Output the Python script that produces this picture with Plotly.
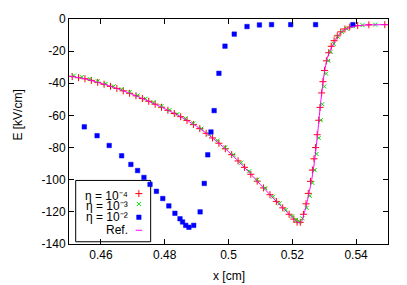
import plotly.graph_objects as go

# Reference solution (magenta line)
ref_x = [0.450, 0.455, 0.460, 0.465, 0.470, 0.475, 0.480, 0.485, 0.490, 0.495,
         0.500, 0.505, 0.510, 0.515, 0.518, 0.520, 0.521, 0.522, 0.5225, 0.523,
         0.524, 0.525, 0.526, 0.527, 0.528, 0.529, 0.530, 0.531, 0.532, 0.533,
         0.534, 0.535, 0.536, 0.537, 0.539, 0.542, 0.546, 0.550]
ref_e = [-35.5, -37.2, -40.0, -43.2, -47.0, -51.2, -55.8, -60.8, -66.8, -74.0,
         -82.5, -92.3, -103.0, -113.5, -119.5, -123.5, -125.5, -126.8, -126.8, -125.5,
         -119.0, -110.5, -101.0, -88.0, -70.0, -50.0, -34.0, -24.0, -19.0, -15.3,
         -11.5, -8.8, -7.0, -6.0, -4.7, -3.9, -3.6, -3.5]

# eta = 1e-4 (red +)
r_x = [0.451, 0.453, 0.455, 0.457, 0.459, 0.461, 0.463, 0.465, 0.467, 0.469,
       0.471, 0.473, 0.475, 0.477, 0.479, 0.481, 0.483, 0.485, 0.487, 0.489,
       0.491, 0.493, 0.495, 0.497, 0.499, 0.501, 0.503, 0.505, 0.507, 0.509,
       0.511, 0.513, 0.515, 0.517, 0.519, 0.5205, 0.5215, 0.5225, 0.5235, 0.5243,
       0.5250, 0.5257, 0.5263, 0.5268, 0.5273, 0.5278, 0.5283, 0.5287, 0.5292, 0.5296,
       0.5301, 0.5307, 0.5314, 0.5322, 0.5331, 0.5341, 0.5352, 0.5365, 0.5380, 0.5405,
       0.5440, 0.5490]
r_e = [-35.8, -36.5, -37.2, -38.2, -39.4, -40.6, -41.9, -43.2, -44.7, -46.2,
       -47.8, -49.5, -51.2, -53.0, -54.9, -56.8, -58.8, -60.8, -63.1, -65.6,
       -68.2, -71.1, -74.0, -77.3, -80.7, -84.4, -88.3, -92.3, -96.6, -100.9,
       -105.1, -109.3, -113.5, -117.5, -121.5, -124.5, -126.4, -126.5, -121.5, -115.0,
       -108.5, -101.0, -94.0, -87.0, -80.0, -72.0, -63.0, -55.0, -46.0, -39.0,
       -32.0, -26.0, -21.0, -17.0, -13.5, -10.5, -8.0, -6.2, -5.0, -4.1,
       -3.6, -3.5]

# eta = 1e-3 (green x)
g_x = [0.4515, 0.4540, 0.4565, 0.4590, 0.4615, 0.4640, 0.4665, 0.4690, 0.4715, 0.4740,
       0.4765, 0.4790, 0.4815, 0.4840, 0.4865, 0.4890, 0.4915, 0.4940, 0.4965, 0.4990,
       0.5015, 0.5040, 0.5065, 0.5090, 0.5115, 0.5140, 0.5160, 0.5180, 0.5200, 0.5212,
       0.5222, 0.5232, 0.5245, 0.5255, 0.5263, 0.5270, 0.5276, 0.5283, 0.5289, 0.5294,
       0.5300, 0.5306, 0.5313, 0.5320, 0.5330, 0.5342, 0.5355, 0.5370, 0.5390, 0.5420,
       0.5460]
g_e = [-35.2, -36.1, -37.3, -38.7, -40.3, -41.9, -43.7, -45.5, -47.5, -49.6,
       -51.8, -54.2, -56.7, -59.2, -61.9, -64.9, -68.2, -71.7, -75.6, -79.9,
       -84.5, -89.4, -94.7, -100.0, -105.3, -110.5, -114.7, -118.7, -122.7, -125.0,
       -126.0, -124.0, -117.5, -110.0, -102.0, -94.0, -84.0, -74.0, -63.0, -53.0,
       -42.0, -34.0, -26.0, -20.5, -15.5, -11.0, -8.0, -6.0, -4.6, -3.8,
       -3.5]

# eta = 1e-2 (blue)
b_x = [0.4548, 0.4588, 0.4626, 0.4665, 0.4694, 0.4715, 0.4735, 0.4754, 0.4774, 0.4794,
       0.4813, 0.4832, 0.4848, 0.4856, 0.4866, 0.4876, 0.4891, 0.4911, 0.4924, 0.4935,
       0.4945, 0.4955, 0.4970, 0.4989, 0.5018, 0.5058, 0.5097, 0.5135, 0.5195, 0.5273,
       0.5390]
b_e = [-67.1, -72.6, -78.7, -85.1, -90.5, -94.3, -98.6, -102.9, -107.2, -111.7,
       -116.3, -120.9, -124.3, -126.3, -128.4, -129.6, -128.4, -120.0, -102.3, -84.5,
       -70.3, -57.0, -33.8, -16.9, -9.4, -4.7, -3.7, -3.5, -3.5, -3.5,
       -3.5]

x_ticks = [0.46, 0.48, 0.50, 0.52, 0.54]
x_ticklabels = ["0.46", "0.48", "0.5", "0.52", "0.54"]
y_ticks = [0, -20, -40, -60, -80, -100, -120, -140]
y_ticklabels = ["0", "-20", "-40", "-60", "-80", "-100", "-120", "-140"]

legend_labels = ["η = 10⁻⁴", "η = 10⁻³", "η = 10⁻²", "Ref."]

RED = "#ff0000"
GREEN = "#00e000"
BLUE = "#0000ff"
MAG = "#ff00ff"
FONT = "Liberation Sans, Arial, sans-serif"

MK_RED = dict(symbol="cross-thin-open", size=5, color=RED, line=dict(color=RED, width=1))
MK_GREEN = dict(symbol="x-thin-open", size=4, color=GREEN, line=dict(color=GREEN, width=1))
MK_BLUE = dict(symbol="square", size=4.5, color=BLUE, line=dict(color=BLUE, width=0.5))

fig = go.Figure()
fig.add_trace(go.Scatter(x=r_x, y=r_e, mode="markers", marker=MK_RED, showlegend=False))
fig.add_trace(go.Scatter(x=g_x, y=g_e, mode="markers", marker=MK_GREEN, showlegend=False))
fig.add_trace(go.Scatter(x=b_x, y=b_e, mode="markers", marker=MK_BLUE, showlegend=False))
fig.add_trace(go.Scatter(x=ref_x, y=ref_e, mode="lines",
                         line=dict(color=MAG, width=1, shape="spline", smoothing=0.6),
                         showlegend=False))

# legend samples on an overlay axis spanning paper coordinates
leg_mx = 0.219
leg_my = [0.224, 0.178, 0.119]
fig.add_trace(go.Scatter(x=[leg_mx], y=[leg_my[0]], xaxis="x2", yaxis="y2", mode="markers",
                         marker=MK_RED, showlegend=False, hoverinfo="skip"))
fig.add_trace(go.Scatter(x=[leg_mx], y=[leg_my[1]], xaxis="x2", yaxis="y2", mode="markers",
                         marker=MK_GREEN, showlegend=False, hoverinfo="skip"))
fig.add_trace(go.Scatter(x=[leg_mx], y=[leg_my[2]], xaxis="x2", yaxis="y2", mode="markers",
                         marker=MK_BLUE, showlegend=False, hoverinfo="skip"))
fig.add_trace(go.Scatter(x=[0.209, 0.229], y=[0.061, 0.061], xaxis="x2", yaxis="y2", mode="lines",
                         line=dict(color=MAG, width=1), showlegend=False, hoverinfo="skip"))

annotations = []
text_y = [0.214, 0.168, 0.122, 0.061]
for lab, ty in zip(legend_labels, text_y):
    annotations.append(dict(text=lab, x=0.189, y=ty, xref="paper", yref="paper",
                            xanchor="right", yanchor="middle", showarrow=False, borderpad=0,
                            font=dict(size=12, color="black", family=FONT)))
annotations.append(dict(text="E [kV/cm]", x=-0.16, y=0.575, xref="paper", yref="paper",
                        textangle=-90, xanchor="center", yanchor="middle", showarrow=False,
                        font=dict(size=12, color="black", family=FONT)))
annotations.append(dict(text="x [cm]", x=0.5, y=-0.14, xref="paper", yref="paper",
                        xanchor="center", yanchor="middle", showarrow=False,
                        font=dict(size=12, color="black", family=FONT)))

axis_common = dict(showline=True, linecolor="black", linewidth=1, mirror="ticks",
                   ticks="inside", ticklen=5, tickcolor="black", showgrid=False,
                   zeroline=False, tickfont=dict(size=12, color="black", family=FONT))

fig.update_layout(
    width=407, height=285,
    margin=dict(l=69, r=19, t=15, b=41),
    paper_bgcolor="white", plot_bgcolor="white",
    font=dict(family=FONT, size=12, color="black"),
    xaxis=dict(range=[0.45, 0.55], tickvals=x_ticks, ticktext=x_ticklabels, **axis_common),
    yaxis=dict(range=[-140, 0], tickvals=y_ticks, ticktext=y_ticklabels, **axis_common),
    xaxis2=dict(domain=[0, 1], range=[0, 1], overlaying="x", anchor="y2", visible=False),
    yaxis2=dict(domain=[0, 1], range=[0, 1], overlaying="y", anchor="x2", visible=False),
    shapes=[dict(type="rect", xref="paper", yref="paper", x0=0.021, x1=0.256, y0=0.010, y1=0.2825,
                 line=dict(color="black", width=1), fillcolor="white", layer="below")],
    annotations=annotations,
    showlegend=False,
)

fig.write_html("out.html", config={"displayModeBar": False})

# remove the browser's default page margin so the figure sits at the window origin
with open("out.html", "r", encoding="utf-8") as f:
    html = f.read()
html = html.replace("<head>", "<head><style>html,body{margin:0;padding:0;overflow:hidden;}</style>", 1)
with open("out.html", "w", encoding="utf-8") as f:
    f.write(html)
